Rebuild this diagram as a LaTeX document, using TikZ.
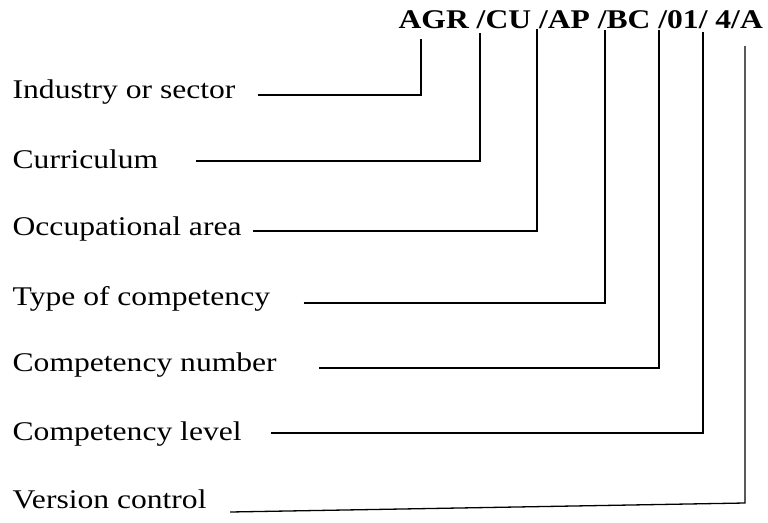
\documentclass[tikz,border=0pt]{standalone}
\usepackage{fontspec}
\setmainfont[FakeStretch=1.17]{Liberation Serif}

\begin{document}
\begin{tikzpicture}[x=1pt, y=-1pt, line width=1.3pt,
    lbl/.style={inner sep=0pt, anchor=base west, font=\fontsize{27}{32}\selectfont}]
\useasboundingbox (0, 0) rectangle (768, 522);
\node [lbl, font=\fontsize{27}{32}\selectfont\bfseries] (code) at (398, 28) {AGR /CU /AP /BC /01/ 4/A};
\coordinate (codeAGR) at (421, 39);
\coordinate (codeCU) at (480, 33);
\coordinate (codeAP) at (537, 29);
\coordinate (codeBC) at (605, 30);
\coordinate (codeNum) at (659, 30);
\coordinate (codeLvl) at (703, 32);
\coordinate (codeVer) at (745, 46);
\coordinate (verbend) at (745, 503);
\node [lbl] (industry) at (12, 98) {Industry or sector};
\node [lbl] (curric) at (12, 168) {Curriculum};
\node [lbl] (occup) at (12, 235) {Occupational area};
\node [lbl] (ctype) at (12, 305) {Type of competency};
\node [lbl] (cnumber) at (12, 371) {Competency number};
\node [lbl] (clevel) at (12, 440) {Competency level};
\node [lbl] (version) at (12, 508) {Version control};
\draw (industry.base east) ++(22pt, 3pt) -| (codeAGR);
\draw (curric.base east) ++(37pt, 7pt) -| (codeCU);
\draw (occup.base east) ++(11pt, 4pt) -| (codeAP);
\draw (ctype.base east) ++(33pt, 2pt) -| (codeBC);
\draw (cnumber.base east) ++(42pt, 3pt) -| (codeNum);
\draw (clevel.base east) ++(29pt, 7pt) -| (codeLvl);
\draw (version.base east) ++(23pt, -4pt) -- (verbend) -- (codeVer);
\end{tikzpicture}
\end{document}
